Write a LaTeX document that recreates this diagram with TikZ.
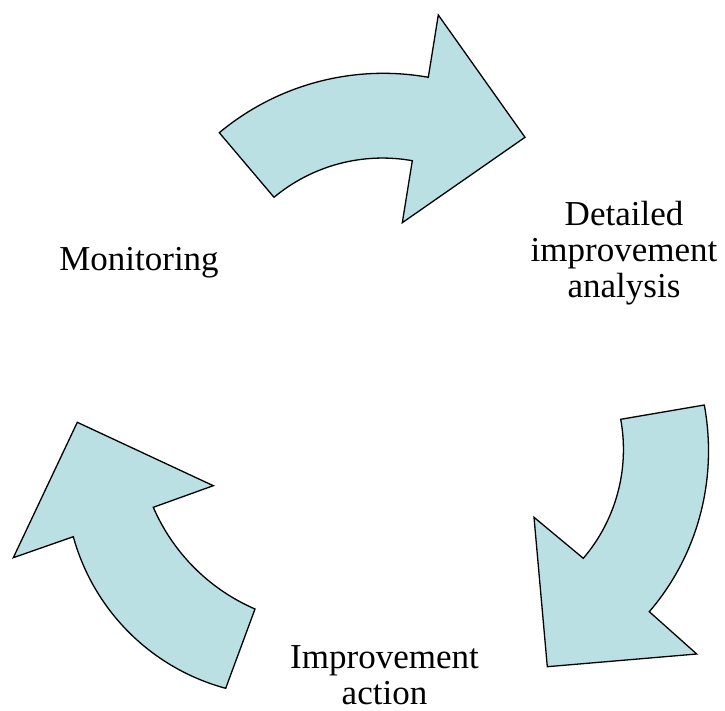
\documentclass[tikz,border=0pt]{standalone}
\usepackage{fontspec}
\setmainfont{Liberation Serif}
\usepackage{tikz}
\definecolor{arrowfill}{RGB}{187,224,227}

\begin{document}
\begin{tikzpicture}[x=1pt, y=-1pt,
    bluearrow/.style={fill=arrowfill, draw=black, line width=1.3pt, line join=miter},
    steplabel/.style={font=\fontsize{35}{36}\selectfont, align=center, anchor=base, inner sep=0pt}]
  \useasboundingbox (0,0) rectangle (725,711);
  \draw [bluearrow] (219.3,132.7) .. controls (277.3,84.3) and (354,64) .. (428.3,77.3)
    -- (438.3,15) -- (525,137.3) -- (402.3,222.7) -- (412.3,160.7)
    .. controls (363,151.9) and (312.5,165.3) .. (274,197.3) -- cycle;
  \draw [bluearrow] (620.7,419.3) -- (704.3,405)
    .. controls (717.9,478.8) and (698.2,554.8) .. (649.3,611.7)
    -- (696.7,654) -- (547.3,666.7) -- (534,517.3) -- (583.3,558.3)
    .. controls (616,520) and (629.8,468.9) .. cycle;
  \draw [bluearrow] (77.3,422.3) -- (213.3,485.7) -- (153.3,507.3)
    .. controls (173,552.9) and (209.4,589.3) .. (255,609) -- (225.7,688.3)
    .. controls (151.6,668.3) and (93.7,610.7) .. (73.3,536.7)
    -- (13.3,557.7) -- cycle;
  \node [steplabel] (monitor) at (139,270) {Monitoring};
  \node [steplabel] (analysis) at (624,298) {Detailed\\improvement\\analysis};
  \node [steplabel] (action) at (384.5,704) {Improvement\\action};
\end{tikzpicture}
\end{document}
